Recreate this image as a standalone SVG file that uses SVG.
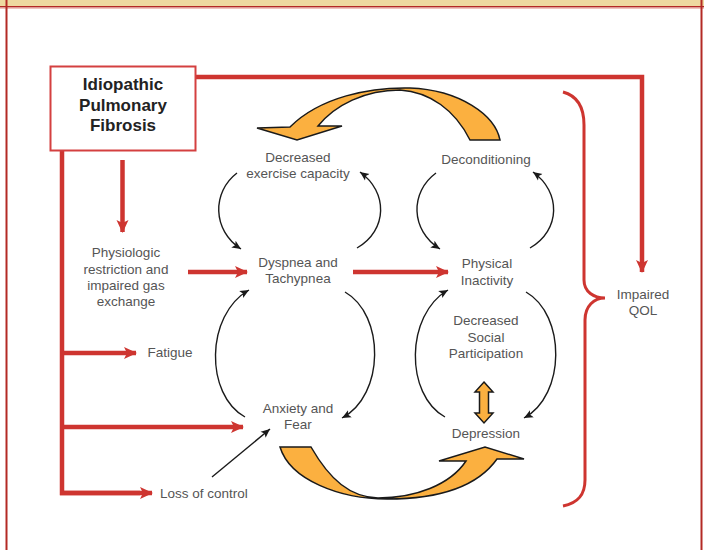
<svg xmlns="http://www.w3.org/2000/svg" width="704" height="550" viewBox="0 0 704 550">
<style>
.lbl{font-family:"Liberation Sans",Arial,sans-serif;font-size:13.5px;fill:#555;text-anchor:middle}
.lbl-start{font-family:"Liberation Sans",Arial,sans-serif;font-size:13.5px;fill:#555;text-anchor:start}
.title{font-family:"Liberation Sans",Arial,sans-serif;font-size:17px;font-weight:bold;fill:#222;text-anchor:middle}
.red{fill:none;stroke:#CE3530;stroke-width:4.5}
.redarr{fill:none;stroke:#CE3530;stroke-width:4.5;marker-end:url(#rh)}
.blk{fill:none;stroke:#1a1a1a;stroke-width:1.4;marker-end:url(#bh)}
.big{fill:#FBB040;stroke:#1a1a1a;stroke-width:1.5;stroke-linejoin:miter}
</style>
<defs>
<marker id="rh" markerUnits="userSpaceOnUse" markerWidth="14" markerHeight="14" viewBox="0 0 14 14" refX="12" refY="7" orient="auto">
<path d="M0,1 L13,7 L0,13 L3,7 Z" fill="#CE3530"/>
</marker>
<marker id="bh" markerUnits="userSpaceOnUse" markerWidth="10" markerHeight="10" viewBox="0 0 10 10" refX="9" refY="5" orient="auto">
<path d="M0,1 L9,5 L0,9 L2,5 Z" fill="#1a1a1a"/>
</marker>
</defs>
<rect x="0" y="0" width="704" height="550" fill="#fff"/>
<g id="frame">
<rect x="0" y="0" width="704" height="6" fill="#EED9A0"/>
<line x1="0" y1="6.8" x2="704" y2="6.8" stroke="#B32A25" stroke-width="1.6"/>
<line x1="0" y1="8.2" x2="704" y2="8.2" stroke="#E9A8A0" stroke-width="1"/>
<line x1="6.5" y1="0" x2="6.5" y2="550" stroke="#B32A25" stroke-width="2"/>
<line x1="701.5" y1="0" x2="701.5" y2="550" stroke="#B32A25" stroke-width="2"/>
</g>
<g id="connectors">
<polyline class="redarr" points="196,77 642,77 642,272"/>
<polyline class="red" points="62,151 62,493 140,493"/>
<line class="redarr" x1="60" y1="493" x2="152" y2="493"/>
<line class="redarr" x1="62" y1="353" x2="136" y2="353"/>
<line class="redarr" x1="62" y1="427" x2="243" y2="427"/>
<line class="redarr" x1="122.5" y1="160" x2="122.5" y2="232"/>
<line class="redarr" x1="188" y1="272" x2="247" y2="272"/>
<line class="redarr" x1="353" y1="272" x2="448" y2="272"/>
<path class="blk" d="M237,173 C212,192 212,230 241,249"/>
<path class="blk" d="M357,248 C388,230 388,192 360,172"/>
<path class="blk" d="M436,173 C410,192 410,230 440,249"/>
<path class="blk" d="M530,248 C561,230 561,192 533,172"/>
<path class="blk" d="M245,417 C205,395 205,315 249,290"/>
<path class="blk" d="M345,292 C385,315 385,395 342,418"/>
<path class="blk" d="M445,417 C405,395 405,315 448,290"/>
<path class="blk" d="M526,292 C566,315 566,395 524,418"/>
<line class="blk" x1="212" y1="477" x2="270" y2="429"/>
<path d="M563,92 C578,96 584,108 584,125 L584,280 C584,292 594,298 605,298 C594,298 585,306 585,320 L585,480 C585,495 578,503 563,506" fill="none" stroke="#CE3530" stroke-width="3"/>
<path class="big" d="M257,128 L297,140 L342,126 L318,126 C335,105 365,90 400,90 C430,92 455,110 470,140 L500,140 C495,115 460,90 410,88 C370,87 320,97 290,127 Z"/>
<path class="big" d="M280,447 L311,447 C330,480 350,497 378,498 C415,498 450,485 466,461 L439,461 L485,447 L524,459 L497,459 C475,490 430,499 387,499 C340,499 290,480 280,447 Z"/>
<path class="big" d="M484,382 L493,392 L488.5,392 L488.5,413 L493,413 L484,423 L475,413 L479.5,413 L479.5,392 L475,392 Z"/>
</g>
<g id="ipf">
<rect x="50.5" y="66.5" width="145" height="84" fill="#fff" stroke="#D44040" stroke-width="2"/>
<text class="title" x="123" y="90">Idiopathic</text>
<text class="title" x="123" y="110.5">Pulmonary</text>
<text class="title" x="123" y="130.5">Fibrosis</text>
</g>
<g id="physiologic">
<text class="lbl" x="126" y="257">Physiologic</text>
<text class="lbl" x="126" y="273.5">restriction and</text>
<text class="lbl" x="126" y="290">impaired gas</text>
<text class="lbl" x="126" y="306">exchange</text>
</g>
<g id="fatigue"><text class="lbl-start" x="147.5" y="357">Fatigue</text></g>
<g id="loss"><text class="lbl-start" x="160" y="498">Loss of control</text></g>
<g id="exercise">
<text class="lbl" x="298" y="162">Decreased</text>
<text class="lbl" x="298" y="178">exercise capacity</text>
</g>
<g id="decond"><text class="lbl" x="486" y="164">Deconditioning</text></g>
<g id="dyspnea">
<text class="lbl" x="298" y="267">Dyspnea and</text>
<text class="lbl" x="298" y="283">Tachypnea</text>
</g>
<g id="inactivity">
<text class="lbl" x="487" y="268">Physical</text>
<text class="lbl" x="487" y="284.5">Inactivity</text>
</g>
<g id="social">
<text class="lbl" x="486" y="325">Decreased</text>
<text class="lbl" x="486" y="341.5">Social</text>
<text class="lbl" x="486" y="358">Participation</text>
</g>
<g id="anxiety">
<text class="lbl" x="298" y="413">Anxiety and</text>
<text class="lbl" x="298" y="429">Fear</text>
</g>
<g id="depression"><text class="lbl" x="486" y="437.5">Depression</text></g>
<g id="qol">
<text class="lbl" x="643" y="299">Impaired</text>
<text class="lbl" x="643" y="315">QOL</text>
</g>
</svg>
